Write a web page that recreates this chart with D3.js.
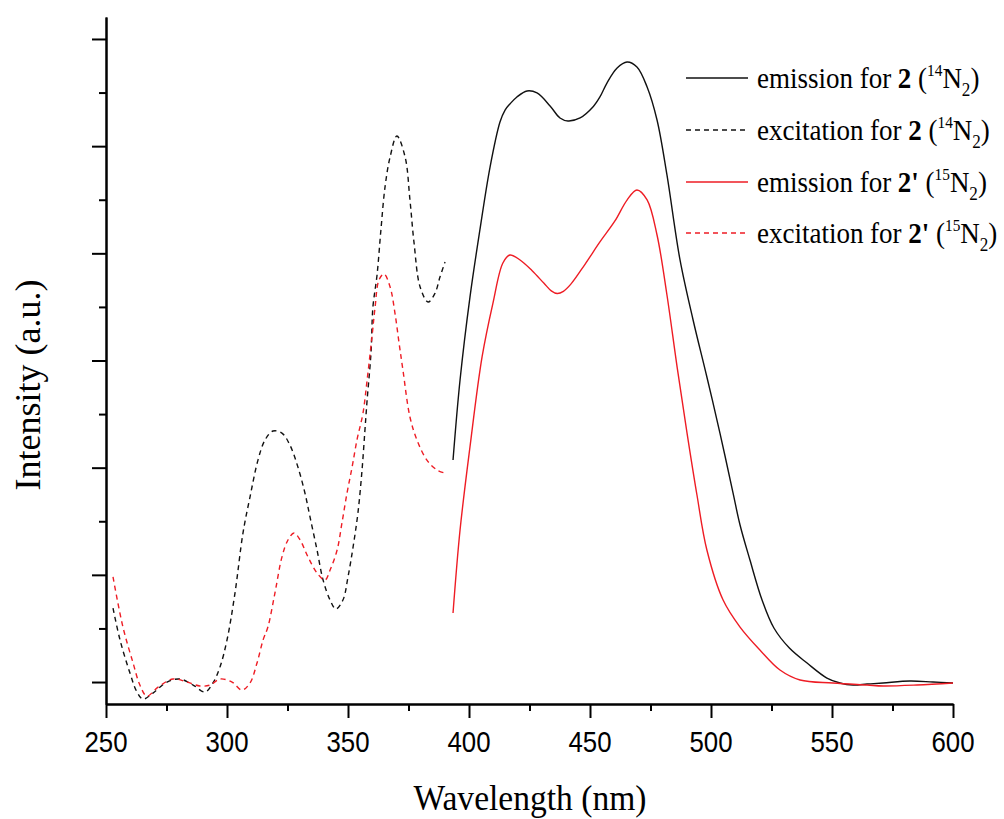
<!DOCTYPE html>
<html><head><meta charset="utf-8">
<script src="https://cdn.jsdelivr.net/npm/d3@7"></script>
<style>body{margin:0;background:#fff;} svg{display:block;}</style>
</head><body><svg id="c" width="1004" height="819"></svg>
<script>
// ---------- data (intensity in arbitrary units) ----------
const xTickValues = [250, 300, 350, 400, 450, 500, 550, 600];
const xMinorValues = [275, 325, 375, 425, 475, 525, 575];
const yMajorValues = [0, 1000, 2000, 3000, 4000, 5000, 6000];
const yMinorValues = [500, 1500, 2500, 3500, 4500, 5500];

const emission2Wl  = [393.4,396.3,400.4,404.5,408.7,412.8,414.9,416.9,419.8,424.0,428.1,433.5,437.6,440.9,445.9,451.2,454.1,457.0,461.2,465.3,469.4,473.6,477.7,481.8,487.2,492.6,498.3,503.7,509.1,512.0,516.1,521.1,526.0,532.4,539.7,547.9,553.3,558.7,564.5,571.1,582.2,591.7,600];
const emission2Int = [2071,2818,3592,4218,4805,5225,5337,5393,5459,5515,5496,5375,5263,5235,5263,5365,5459,5589,5729,5785,5739,5552,5244,4731,3938,3378,2846,2323,1764,1465,1138,765,504,317,177,37,-9,-28,-19,-9,9,0,-9];

const excitation2Wl  = [252.9,255.8,259.9,262.8,265.3,269.4,275.2,280.6,286.0,290.9,294.2,297.1,300,303.3,306.6,309.5,312.8,315.7,319.0,322.7,326.0,329.3,332.2,334.3,337.2,339.7,342.6,345.0,347.9,350,352.1,354.1,355.8,357.0,357.9,359.5,360.3,362.0,363.6,365.3,367.4,370.2,373.6,375.6,377.3,379.8,383.1,386.0,388.0,390.1];
const excitation2Int = [690,392,84,-93,-159,-103,0,28,-28,-93,-9,140,392,830,1390,1726,2071,2258,2342,2323,2211,2006,1764,1540,1232,952,765,681,765,980,1260,1577,1978,2351,2631,3070,3499,3798,4218,4619,4899,5095,4899,4498,4096,3686,3546,3630,3779,3919];

const emission2pWl  = [393.4,396.3,400.4,405.4,409.9,414.0,416.9,421.1,426.0,431.0,434.0,436.5,439.0,442.0,448.0,454.1,460.3,465.3,469.4,473.6,477.7,481.8,486.0,490.1,494.2,498.3,505.0,512.0,520.2,528.5,536.8,550.4,564.5,571.1,585.1,600];
const emission2pInt = [644,1418,2193,3033,3536,3910,3984,3938,3840,3720,3650,3625,3645,3710,3900,4106,4302,4497,4591,4498,4171,3611,2939,2323,1745,1232,765,513,299,112,19,-9,-28,-37,-28,-9];

const excitation2pWl  = [252.9,257.0,261.2,264.0,266.9,271.5,277.7,283.5,288.8,293.0,297.1,302.1,306.2,309.5,312.4,314.9,316.9,319.8,322.7,325.2,327.7,330.2,333.5,337.2,340.5,342.6,345.5,347.5,349.6,351.7,353.7,356.2,357.9,359.9,361.2,362.8,364.9,367.4,369.4,371.1,372.7,375.6,378.5,382.6,386.8,390.1];
const excitation2pInt = [980,513,177,-28,-131,-47,28,0,-37,-28,28,0,-75,-9,177,392,513,830,1166,1325,1390,1325,1166,1017,952,1045,1232,1484,1764,2006,2258,2510,2818,3219,3499,3751,3807,3686,3443,3163,2911,2473,2258,2071,1978,1950];

const seriesNames = ["emission for ", "excitation for ", "emission for ", "excitation for "];
const seriesBold  = ["2", "2", "2'", "2'"];
const seriesIso   = ["14", "14", "15", "15"];

// ---------- drawing ----------
const svg = d3.select("#c");
const black = "#111", red = "#ee1c24";
const x = d3.scaleLinear().domain([250, 600]).range([106, 953]);
const y = d3.scaleLinear().domain([-205, 6205]).range([704, 17]);

const series = [
  {wl: emission2Wl, it: emission2Int, color: black, dash: null},
  {wl: excitation2Wl, it: excitation2Int, color: black, dash: "5,4"},
  {wl: emission2pWl, it: emission2pInt, color: red, dash: null},
  {wl: excitation2pWl, it: excitation2pInt, color: red, dash: "5,4"}
];

const line = d3.line().x(d => x(d[0])).y(d => y(d[1])).curve(d3.curveCatmullRom.alpha(0.5));
series.forEach(s => {
  svg.append("path")
    .datum(d3.zip(s.wl, s.it))
    .attr("d", line)
    .attr("fill", "none")
    .attr("stroke", s.color)
    .attr("stroke-width", 1.4)
    .attr("stroke-dasharray", s.dash);
});

// axes
function styleAxis(g) {
  g.selectAll("path,line").attr("stroke", "#000").attr("stroke-width", 2);
  g.selectAll("text").remove();
}
svg.append("g").attr("transform", "translate(0,704)")
  .call(d3.axisBottom(x).tickValues(xTickValues).tickSize(14).tickSizeOuter(0).tickFormat(""))
  .call(styleAxis);
svg.append("g").attr("transform", "translate(0,704)")
  .call(d3.axisBottom(x).tickValues(xMinorValues).tickSize(7).tickSizeOuter(0).tickFormat(""))
  .call(styleAxis);
svg.append("g").attr("transform", "translate(106,0)")
  .call(d3.axisLeft(y).tickValues(yMajorValues).tickSize(14).tickSizeOuter(0).tickFormat(""))
  .call(styleAxis);
svg.append("g").attr("transform", "translate(106,0)")
  .call(d3.axisLeft(y).tickValues(yMinorValues).tickSize(7).tickSizeOuter(0).tickFormat(""))
  .call(styleAxis);

// tick labels (slightly condensed sans)
svg.append("g").selectAll("text").data(xTickValues).join("text")
  .attr("x", d => x(d)).attr("y", 752)
  .attr("text-anchor", "middle")
  .attr("font-family", "'Liberation Sans', Arial, sans-serif")
  .attr("font-size", 30)
  .attr("fill", "#000")
  .text(d => d)
  .each(function() {
    const L = this.getComputedTextLength();
    d3.select(this).attr("textLength", L * 0.86).attr("lengthAdjust", "spacingAndGlyphs");
  });

// axis titles
const serif = "'Liberation Serif', 'Times New Roman', serif";
svg.append("text")
  .attr("x", 530).attr("y", 810)
  .attr("text-anchor", "middle")
  .attr("font-family", serif).attr("font-size", 36).attr("fill", "#000")
  .text("Wavelength (nm)")
  .each(function() {
    d3.select(this).attr("textLength", 233).attr("lengthAdjust", "spacingAndGlyphs");
  });
svg.append("text")
  .attr("transform", "translate(40,385) rotate(-90)")
  .attr("text-anchor", "middle")
  .attr("font-family", serif).attr("font-size", 36).attr("fill", "#000")
  .text("Intensity (a.u.)");

// legend
const legendY = [78, 130, 182, 233];
series.forEach((s, i) => {
  const ly = legendY[i];
  svg.append("line")
    .attr("x1", 686).attr("x2", 748).attr("y1", ly).attr("y2", ly)
    .attr("stroke", s.color).attr("stroke-width", 1.4)
    .attr("stroke-dasharray", s.dash);
  const t = svg.append("text")
    .attr("transform", `translate(757,${ly + 10}) scale(0.9,1)`)
    .attr("font-family", serif).attr("font-size", 30).attr("fill", "#000");
  t.append("tspan").text(seriesNames[i]);
  t.append("tspan").attr("font-weight", "bold").text(seriesBold[i]);
  t.append("tspan").text(" (");
  t.append("tspan").attr("font-size", 17).attr("dy", -12).text(seriesIso[i]);
  t.append("tspan").attr("dy", 12).text("N");
  t.append("tspan").attr("font-size", 19).attr("dy", 8).text("2");
  t.append("tspan").attr("dy", -8).text(")");
});
</script>
</body></html>
